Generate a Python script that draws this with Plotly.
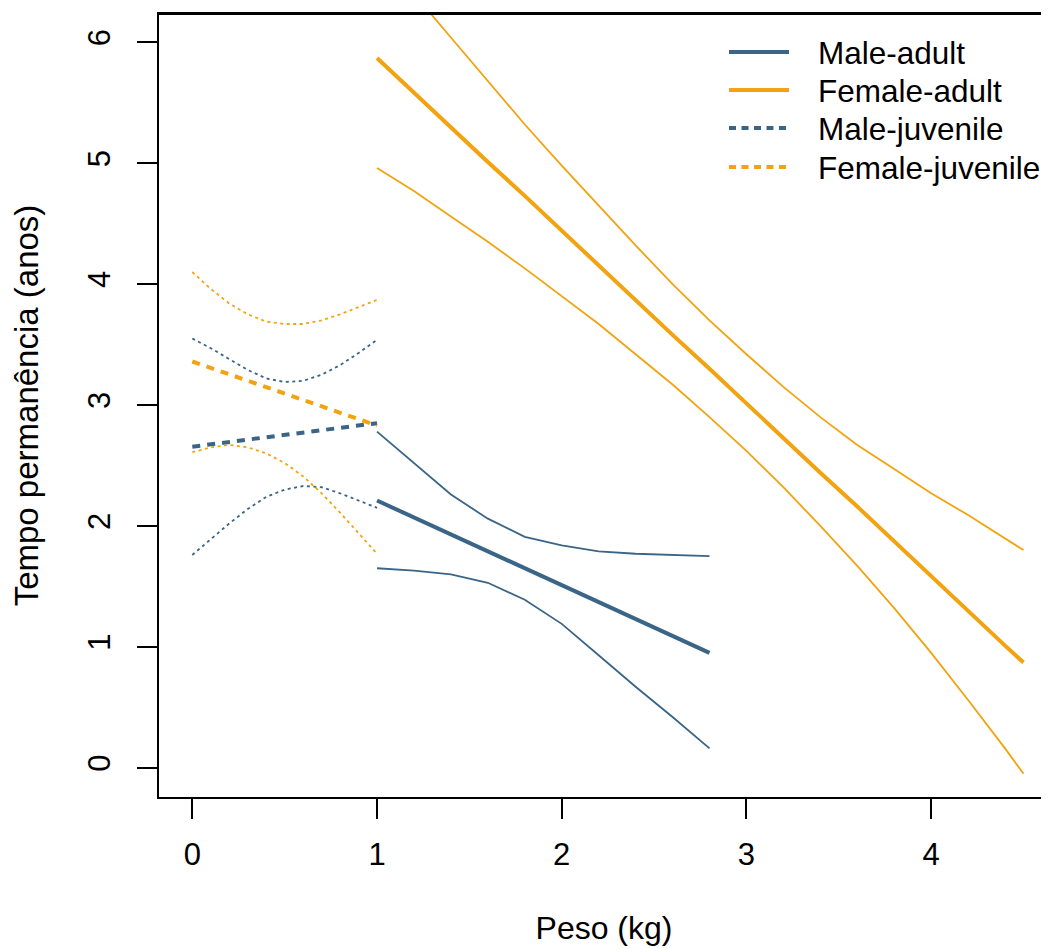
import plotly.graph_objects as go

# ---------------- data ----------------
# Adult curves (x = Peso, kg)
x_male_adult = [1.0, 1.2, 1.4, 1.6, 1.8, 2.0, 2.2, 2.4, 2.6, 2.8]
male_adult_fit = [2.21, 2.07, 1.93, 1.79, 1.65, 1.51, 1.37, 1.23, 1.09, 0.95]
male_adult_upper = [2.78, 2.52, 2.26, 2.06, 1.91, 1.84, 1.79, 1.77, 1.76, 1.75]
male_adult_lower = [1.65, 1.63, 1.60, 1.53, 1.39, 1.19, 0.93, 0.67, 0.42, 0.16]

x_female_adult = [1.0, 1.2, 1.4, 1.6, 1.8, 2.0, 2.2, 2.4, 2.6, 2.8,
                  3.0, 3.2, 3.4, 3.6, 3.8, 4.0, 4.2, 4.4, 4.5]
female_adult_fit = [5.87, 5.58, 5.30, 5.01, 4.73, 4.44, 4.16, 3.87, 3.58, 3.30,
                    3.01, 2.73, 2.44, 2.16, 1.87, 1.58, 1.30, 1.01, 0.87]
female_adult_upper = [6.78, 6.40, 6.04, 5.68, 5.32, 4.98, 4.65, 4.32, 4.00, 3.70,
                      3.42, 3.15, 2.90, 2.67, 2.47, 2.27, 2.09, 1.90, 1.80]
female_adult_lower = [4.96, 4.77, 4.56, 4.35, 4.13, 3.90, 3.67, 3.42, 3.17, 2.90,
                      2.62, 2.32, 2.00, 1.67, 1.32, 0.95, 0.56, 0.16, -0.05]

# Juvenile curves
x_juv = [0.0, 0.1, 0.2, 0.3, 0.4, 0.5, 0.6, 0.7, 0.8, 0.9, 1.0]
male_juv_fit = [2.655, 2.675, 2.694, 2.714, 2.733, 2.753, 2.772, 2.792, 2.811, 2.831, 2.85]
male_juv_upper = [3.55, 3.47, 3.38, 3.29, 3.22, 3.19, 3.20, 3.25, 3.33, 3.43, 3.54]
male_juv_lower = [1.76, 1.89, 2.02, 2.14, 2.24, 2.30, 2.33, 2.32, 2.27, 2.21, 2.15]
female_juv_fit = [3.36, 3.307, 3.254, 3.201, 3.148, 3.095, 3.042, 2.989, 2.936, 2.883, 2.83]
female_juv_upper = [4.10, 3.96, 3.84, 3.75, 3.69, 3.67, 3.67, 3.70, 3.75, 3.81, 3.87]
female_juv_lower = [2.61, 2.65, 2.67, 2.65, 2.60, 2.52, 2.41, 2.27, 2.11, 1.94, 1.77]

legend_labels = ["Male-adult", "Female-adult", "Male-juvenile", "Female-juvenile"]
x_ticks = [0, 1, 2, 3, 4]
y_ticks = [0, 1, 2, 3, 4, 5, 6]
x_title = "Peso (kg)"
y_title = "Tempo permanência (anos)"

# ---------------- style ----------------
BLUE = "#3A6587"
ORANGE = "#F2A30F"
FONT = "Arial, Liberation Sans, sans-serif"
FIT_DASH = "8px,7px"
CI_DASH = "3px,3.5px"

fig = go.Figure()

def add(x, y, color, width, dash):
    fig.add_trace(go.Scatter(
        x=x, y=y, mode="lines", showlegend=False,
        line=dict(color=color, width=width, dash=dash),
        hoverinfo="skip",
    ))

# fitted lines
add(x_male_adult, male_adult_fit, BLUE, 4, "solid")
add(x_female_adult, female_adult_fit, ORANGE, 4, "solid")
add(x_juv, male_juv_fit, BLUE, 4, FIT_DASH)
add(x_juv, female_juv_fit, ORANGE, 4, FIT_DASH)

# confidence bands
add(x_male_adult, male_adult_upper, BLUE, 1.8, "solid")
add(x_male_adult, male_adult_lower, BLUE, 1.8, "solid")
add(x_female_adult, female_adult_upper, ORANGE, 1.8, "solid")
add(x_female_adult, female_adult_lower, ORANGE, 1.8, "solid")
add(x_juv, male_juv_upper, BLUE, 1.8, CI_DASH)
add(x_juv, male_juv_lower, BLUE, 1.8, CI_DASH)
add(x_juv, female_juv_upper, ORANGE, 1.8, CI_DASH)
add(x_juv, female_juv_lower, ORANGE, 1.8, CI_DASH)

# plot area in page pixels (page body has an 8px margin)
PL, PR, PT, PB = 159, 1049, 14, 797
def px_x(p):
    return (p - PL) / (PR - PL)
def px_y(p):
    return (PB - p) / (PB - PT)

# legend (drawn in paper coordinates)
leg_colors = [BLUE, ORANGE, BLUE, ORANGE]
leg_dash = ["solid", "solid", "7px,5.5px", "7px,5.5px"]
leg_rows = [52, 90, 128, 167]
shapes = []
annotations = []
for lab, col, dsh, row in zip(legend_labels, leg_colors, leg_dash, leg_rows):
    shapes.append(dict(type="line", xref="paper", yref="paper",
                       x0=px_x(729), x1=px_x(789), y0=px_y(row), y1=px_y(row),
                       line=dict(color=col, width=4, dash=dsh)))
    annotations.append(dict(text=lab, xref="paper", yref="paper",
                            x=px_x(816), y=px_y(row + 1), xanchor="left", yanchor="middle",
                            showarrow=False, font=dict(family=FONT, size=31.5, color="black")))
# top frame line
shapes.append(dict(type="line", xref="paper", yref="paper", x0=0, x1=1, y0=1, y1=1,
                   line=dict(color="black", width=2)))

fig.update_layout(
    width=1041, height=941,
    margin=dict(l=151, r=0, t=6, b=152),
    paper_bgcolor="white", plot_bgcolor="white",
    font=dict(family=FONT, size=31, color="black"),
    showlegend=False,
    shapes=shapes,
    annotations=annotations,
    xaxis=dict(
        range=[-0.1803, 4.638], tickvals=x_ticks, ticktext=[str(v) for v in x_ticks],
        showgrid=False, zeroline=False,
        showline=True, mirror=True, linecolor="black", linewidth=2,
        ticks="outside", ticklen=20, tickwidth=2, tickcolor="black",
        ticklabelstandoff=9,
        tickfont=dict(family=FONT, size=31, color="black"),
        title=dict(text=x_title, font=dict(family=FONT, size=32, color="black"), standoff=45),
    ),
    yaxis=dict(
        range=[-0.242, 6.234], tickvals=y_ticks, ticktext=[str(v) for v in y_ticks],
        showgrid=False, zeroline=False,
        showline=True, mirror=False, linecolor="black", linewidth=2,
        ticks="outside", ticklen=20, tickwidth=2, tickcolor="black", tickangle=-90,
        ticklabelstandoff=15,
        tickfont=dict(family=FONT, size=31, color="black"),
        title=dict(text=y_title, font=dict(family=FONT, size=33, color="black"), standoff=34),
    ),
)

fig.write_html("out.html")
